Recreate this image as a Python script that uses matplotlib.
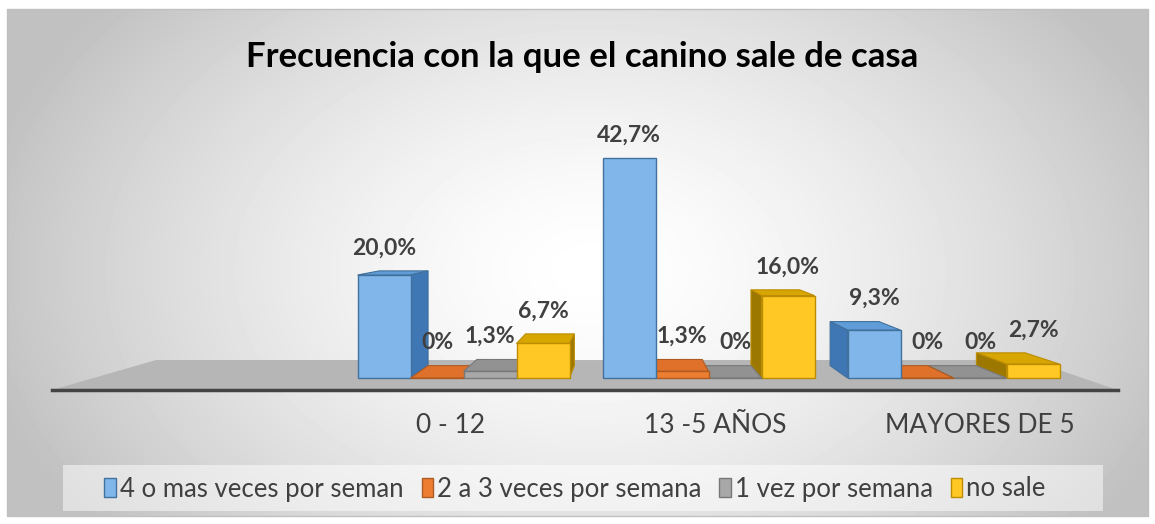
import numpy as np
import matplotlib.pyplot as plt
from matplotlib.patches import Polygon, Rectangle, Patch

# datos del grafico
categorias = ['0 - 12', '13 -5 AÑOS', 'MAYORES DE 5']
series = ['4 o mas veces por seman', '2 a 3 veces por semana', '1 vez por semana', 'no sale']
cuatro_o_mas = [20.0, 42.7, 9.3]
dos_a_tres = [0.0, 1.3, 0.0]
una_vez = [1.3, 0.0, 0.0]
no_sale = [6.7, 16.0, 2.7]
valores = [cuatro_o_mas, dos_a_tres, una_vez, no_sale]
titulo = 'Frecuencia con la que el canino sale de casa'

# colores: frente, lado, tapa, borde
frente = ['#80b6ea', '#ed7d31', '#a8a8a8', '#ffc824']
lado = ['#3f76b4', '#c05a14', '#7c7c7c', '#9c7800']
tapa = ['#5f9cd8', '#e0712a', '#929292', '#d8a600']
borde = ['#41719c', '#ae5a21', '#787878', '#bc8c00']

fam = ['Lato', 'DejaVu Sans']
gris_txt = '#404040'

W, H = 1155, 524
fig = plt.figure(figsize=(W / 100, H / 100), dpi=100)

# fondo con degradado radial
bg = fig.add_axes([0, 0, 1, 1])
bg.set_xlim(0, W)
bg.set_ylim(H, 0)
bg.axis('off')
yy, xx = np.mgrid[9:516, 7:1148]
d = np.sqrt(((xx - 590) / 620.0) ** 2 + ((yy - 270) / 420.0) ** 2)
img = 255 - 62 * np.clip(d, 0, 1) ** 1.5
bg.imshow(img, cmap='gray', vmin=0, vmax=255, extent=(7, 1148, 516, 9),
          aspect='auto', interpolation='bilinear')
bg.add_patch(Rectangle((7, 9), 1141, 507, fill=False, ec='#c0c0c0', lw=1))
bg.add_patch(Rectangle((63, 465), 1040, 46, fc='white', alpha=0.5, ec='none'))

# ejes principales (escala: 245 px por categoria, 5.15 px por %)
ax = fig.add_axes([0, 0, 1, 1])
ax.patch.set_visible(False)
ax.axis('off')
ax.set_xlim(-463.5 / 245, (W - 463.5) / 245)
ax.set_ylim(-146 / 5.15, 378 / 5.15)

vpx, vpy = 0.68, 30.0   # punto de fuga
k = 0.08                # profundidad de las barras
kf = 0.18               # profundidad del piso

# piso
f0, f1, fy = -1.68, 2.67, -2.33
piso = [(f0, fy), (f1, fy),
        (f1 + kf * (vpx - f1), fy + kf * (vpy - fy)),
        (f0 + kf * (vpx - f0), fy + kf * (vpy - fy))]
ax.add_patch(Polygon(piso, closed=True, fc='#b6b6b6', ec='none', zorder=1))
ax.plot([f0, f1], [fy, fy], color='#444444', lw=2.5, zorder=1.5)

w = 53 / 245
x = np.arange(len(categorias))
for j, vals in enumerate(valores):
    for i, h in enumerate(vals):
        L = x[i] - 2 * w + j * w
        R = L + w
        c = (L + R) / 2
        z = 3 + 1.0 / (1 + abs(c - vpx))
        # tapa
        if h < vpy:
            tb = h + k * (vpy - h)
            top = [(L, h), (R, h), (R + k * (vpx - R), tb), (L + k * (vpx - L), tb)]
            ax.add_patch(Polygon(top, closed=True, fc=tapa[j], ec=borde[j], lw=0.8, zorder=z))
        # lado
        if R < vpx:
            sx = R + k * (vpx - R)
            side = [(R, 0), (R, h), (sx, h + k * (vpy - h)), (sx, k * vpy)]
            ax.add_patch(Polygon(side, closed=True, fc=lado[j], ec=borde[j], lw=0.8, zorder=z))
        elif L > vpx:
            sx = L + k * (vpx - L)
            side = [(L, 0), (L, h), (sx, h + k * (vpy - h)), (sx, k * vpy)]
            ax.add_patch(Polygon(side, closed=True, fc=lado[j], ec=borde[j], lw=0.8, zorder=z))
        ax.bar(c, h, width=w, color=frente[j], edgecolor=borde[j], lw=1, zorder=z + 0.01)
        etiqueta = '0%' if h == 0 else f'{h:.1f}%'.replace('.', ',')
        ytop = max(h, h + k * (vpy - h))
        ax.annotate(etiqueta, (c, ytop), xytext=(0, 9), textcoords='offset points',
                    ha='center', va='bottom', fontsize=16.5, fontweight='bold',
                    color=gris_txt, family=fam, zorder=10)

# etiquetas de categorias (abiertas desde el punto de fuga)
for i, cat in enumerate(categorias):
    ax.text(vpx + 1.08 * (x[i] - vpx), -9.3, cat, ha='center', va='center',
            fontsize=19, color=gris_txt, family=fam)

fig.text(582 / W, 1 - 57 / H, titulo, ha='center', va='center', fontsize=25,
         fontweight='bold', color='black', family=fam)

handles = [Patch(fc=frente[j], ec=borde[j]) for j in range(len(series))]
fig.legend(handles, series, loc='center', bbox_to_anchor=(575 / W, 1 - 489 / H),
           ncol=4, frameon=False, handlelength=0.45, handleheight=0.75,
           handletextpad=0.15, columnspacing=0.7, labelcolor=gris_txt,
           prop={'family': fam, 'size': 18.5})

fig.savefig('out.png', dpi=100)
